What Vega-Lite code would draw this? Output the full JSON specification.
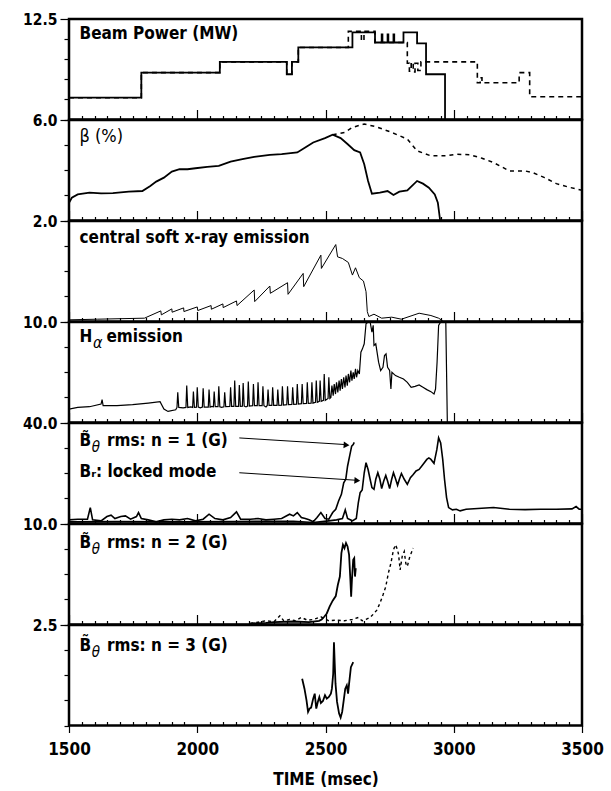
{
  "$schema": "https://vega.github.io/schema/vega-lite/v6.json",
  "background": "white",
  "padding": {"left": 21, "top": 10, "right": 12, "bottom": 8},
  "config": {
    "font": "DejaVu Sans Condensed",
    "view": {"stroke": "black", "strokeWidth": 2.5},
    "concat": {"spacing": 0},
    "axis": {"domain": false, "grid": false, "tickColor": "black", "tickWidth": 1.2, "labelFont": "DejaVu Sans Condensed", "labelFontSize": 15.5, "labelFontWeight": "bold", "labelColor": "black", "titleFont": "DejaVu Sans Condensed", "titleColor": "black"},
    "axisX": {"labelFontSize": 17},
    "text": {"font": "DejaVu Sans Condensed", "fontSize": 17, "fontWeight": "bold", "align": "left", "baseline": "middle", "color": "black"}
  },
  "datasets": {
    "one": [{"k": 0}],
    "bp1": [{"t":1500,"v":2.71},{"t":1782,"v":5.83},{"t":2088,"v":7.17},{"t":2349,"v":5.63},{"t":2369,"v":7.17},{"t":2394,"v":8.96},{"t":2605,"v":10.83},{"t":2693,"v":9.58},{"t":2719,"v":10.6},{"t":2722,"v":9.58},{"t":2742,"v":10.6},{"t":2745,"v":9.58},{"t":2765,"v":10.6},{"t":2768,"v":9.58},{"t":2804,"v":10.83},{"t":2857,"v":9.46},{"t":2892,"v":5.63},{"t":2966,"v":0},{"t":2968,"v":0}],
    "bp2": [{"t":1500,"v":2.71},{"t":1782,"v":5.83},{"t":2088,"v":7.17},{"t":2349,"v":5.63},{"t":2369,"v":7.17},{"t":2394,"v":8.96},{"t":2589,"v":10.96},{"t":2640,"v":9.8},{"t":2650,"v":10.96},{"t":2693,"v":9.58},{"t":2819,"v":7.0},{"t":2827,"v":6.0},{"t":2834,"v":7.1},{"t":2842,"v":5.9},{"t":2849,"v":7.0},{"t":2860,"v":6.1},{"t":2872,"v":7.17},{"t":3092,"v":4.58},{"t":3103,"v":5.2},{"t":3110,"v":4.58},{"t":3255,"v":5.83},{"t":3296,"v":2.83},{"t":3500,"v":2.83}],
    "beta1": [{"t":1500,"v":1.06},{"t":1511,"v":1.36},{"t":1534,"v":1.56},{"t":1580,"v":1.66},{"t":1625,"v":1.62},{"t":1671,"v":1.64},{"t":1733,"v":1.72},{"t":1786,"v":1.76},{"t":1817,"v":2.06},{"t":1840,"v":2.32},{"t":1870,"v":2.56},{"t":1901,"v":2.92},{"t":1931,"v":3.06},{"t":1962,"v":3.06},{"t":1993,"v":3.12},{"t":2039,"v":3.2},{"t":2084,"v":3.26},{"t":2130,"v":3.52},{"t":2176,"v":3.66},{"t":2222,"v":3.8},{"t":2283,"v":3.92},{"t":2329,"v":3.96},{"t":2390,"v":4.06},{"t":2421,"v":4.36},{"t":2452,"v":4.66},{"t":2498,"v":4.92},{"t":2528,"v":5.12},{"t":2559,"v":4.92},{"t":2589,"v":4.52},{"t":2612,"v":4.2},{"t":2635,"v":4.06},{"t":2651,"v":3.36},{"t":2666,"v":2.36},{"t":2681,"v":1.6},{"t":2712,"v":1.66},{"t":2742,"v":1.76},{"t":2765,"v":1.52},{"t":2788,"v":1.72},{"t":2819,"v":1.8},{"t":2857,"v":2.36},{"t":2880,"v":2.2},{"t":2903,"v":1.96},{"t":2926,"v":1.56},{"t":2938,"v":1.06},{"t":2947,"v":0}],
    "beta2": [{"t":2528,"v":5.12},{"t":2574,"v":5.26},{"t":2605,"v":5.56},{"t":2651,"v":5.76},{"t":2697,"v":5.6},{"t":2758,"v":5.26},{"t":2819,"v":4.86},{"t":2857,"v":4.16},{"t":2911,"v":3.86},{"t":2972,"v":3.86},{"t":3010,"v":3.96},{"t":3064,"v":3.92},{"t":3110,"v":3.72},{"t":3155,"v":3.46},{"t":3217,"v":2.96},{"t":3278,"v":2.96},{"t":3308,"v":2.86},{"t":3354,"v":2.56},{"t":3400,"v":2.2},{"t":3446,"v":2.0},{"t":3500,"v":1.8}],
    "sxr": [{"t":1500,"v":0.033},{"t":1610,"v":0.046},{"t":1794,"v":0.066},{"t":1858,"v":0.211},{"t":1860,"v":0.132},{"t":1901,"v":0.251},{"t":1902,"v":0.185},{"t":1947,"v":0.271},{"t":1948,"v":0.198},{"t":2000,"v":0.29},{"t":2002,"v":0.218},{"t":2054,"v":0.317},{"t":2055,"v":0.244},{"t":2100,"v":0.35},{"t":2101,"v":0.277},{"t":2153,"v":0.409},{"t":2155,"v":0.317},{"t":2222,"v":0.627},{"t":2224,"v":0.396},{"t":2283,"v":0.706},{"t":2285,"v":0.561},{"t":2352,"v":0.772},{"t":2354,"v":0.541},{"t":2413,"v":0.957},{"t":2415,"v":0.693},{"t":2482,"v":1.32},{"t":2484,"v":1.056},{"t":2540,"v":1.531},{"t":2547,"v":1.287},{"t":2566,"v":1.254},{"t":2589,"v":1.175},{"t":2605,"v":0.924},{"t":2617,"v":1.069},{"t":2632,"v":0.871},{"t":2648,"v":0.805},{"t":2658,"v":0.594},{"t":2663,"v":0.198},{"t":2669,"v":0.099},{"t":2689,"v":0.145},{"t":2719,"v":0.066},{"t":2758,"v":0.086},{"t":2796,"v":0.046},{"t":2865,"v":0.165},{"t":2911,"v":0.119},{"t":2941,"v":0.066},{"t":2957,"v":0.013}],
    "ha": [{"t":1500,"v":1.33},{"t":1534,"v":1.5},{"t":1580,"v":1.57},{"t":1625,"v":1.83},{"t":1629,"v":2.27},{"t":1633,"v":1.67},{"t":1687,"v":1.67},{"t":1748,"v":1.77},{"t":1809,"v":1.93},{"t":1855,"v":2.07},{"t":1870,"v":1.33},{"t":1886,"v":1.1},{"t":1916,"v":1.27},
      {"t":1921,"v":1.5},{"t":1924,"v":3.0},{"t":1928,"v":1.5},{"t":1945,"v":1.45},
      {"t":1956,"v":1.5},{"t":1959,"v":3.67},{"t":1963,"v":1.5},{"t":1975,"v":1.55},
      {"t":1982,"v":1.5},{"t":1985,"v":3.07},{"t":1989,"v":1.5},
      {"t":1997,"v":1.53},{"t":2000,"v":3.5},{"t":2004,"v":1.53},{"t":2012,"v":1.45},
      {"t":2020,"v":1.53},{"t":2023,"v":3.4},{"t":2027,"v":1.53},
      {"t":2043,"v":1.53},{"t":2046,"v":3.27},{"t":2050,"v":1.53},{"t":2057,"v":1.6},
      {"t":2063,"v":1.57},{"t":2066,"v":3.07},{"t":2070,"v":1.57},
      {"t":2081,"v":1.57},{"t":2084,"v":3.6},{"t":2088,"v":1.57},{"t":2095,"v":1.5},
      {"t":2104,"v":1.57},{"t":2107,"v":3.0},{"t":2111,"v":1.57},
      {"t":2127,"v":1.6},{"t":2130,"v":3.5},{"t":2134,"v":1.6},
      {"t":2143,"v":1.6},{"t":2146,"v":4.17},{"t":2150,"v":1.6},
      {"t":2161,"v":1.6},{"t":2164,"v":3.73},{"t":2168,"v":1.6},
      {"t":2176,"v":1.63},{"t":2179,"v":3.93},{"t":2183,"v":1.63},{"t":2190,"v":1.55},
      {"t":2196,"v":1.63},{"t":2199,"v":4.07},{"t":2203,"v":1.63},
      {"t":2216,"v":1.67},{"t":2219,"v":3.83},{"t":2223,"v":1.67},
      {"t":2234,"v":1.67},{"t":2237,"v":4.0},{"t":2241,"v":1.67},
      {"t":2253,"v":1.67},{"t":2256,"v":3.6},{"t":2260,"v":1.67},{"t":2268,"v":1.55},
      {"t":2273,"v":1.7},{"t":2276,"v":3.27},{"t":2280,"v":1.7},
      {"t":2291,"v":1.7},{"t":2294,"v":3.5},{"t":2298,"v":1.7},
      {"t":2311,"v":1.7},{"t":2314,"v":3.27},{"t":2318,"v":1.7},
      {"t":2329,"v":1.73},{"t":2332,"v":3.6},{"t":2336,"v":1.73},
      {"t":2349,"v":1.77},{"t":2352,"v":3.6},{"t":2356,"v":1.77},
      {"t":2369,"v":1.8},{"t":2372,"v":3.5},{"t":2376,"v":1.8},
      {"t":2387,"v":1.83},{"t":2390,"v":3.83},{"t":2394,"v":1.83},
      {"t":2406,"v":1.87},{"t":2409,"v":3.83},{"t":2413,"v":1.87},
      {"t":2426,"v":1.9},{"t":2429,"v":4.0},{"t":2433,"v":1.9},
      {"t":2444,"v":1.93},{"t":2447,"v":4.0},{"t":2451,"v":1.93},
      {"t":2461,"v":2.0},{"t":2464,"v":4.17},{"t":2468,"v":2.0},
      {"t":2476,"v":2.1},{"t":2479,"v":4.17},{"t":2483,"v":2.1},
      {"t":2492,"v":2.2},{"t":2495,"v":4.83},{"t":2499,"v":2.2},
      {"t":2510,"v":2.4},{"t":2513,"v":4.5},{"t":2517,"v":2.4},
      {"t":2521,"v":2.5},{"t":2525,"v":3.67},{"t":2530,"v":2.67},{"t":2534,"v":3.83},{"t":2539,"v":2.83},{"t":2543,"v":4.0},{"t":2548,"v":3.0},{"t":2553,"v":4.17},{"t":2557,"v":3.17},{"t":2562,"v":4.33},{"t":2566,"v":3.33},{"t":2571,"v":4.5},{"t":2576,"v":3.5},{"t":2580,"v":4.67},{"t":2585,"v":3.67},{"t":2589,"v":4.83},{"t":2594,"v":4.0},{"t":2599,"v":5.17},{"t":2603,"v":4.17},{"t":2608,"v":5.0},{"t":2612,"v":4.33},{"t":2617,"v":5.33},{"t":2621,"v":4.5},{"t":2626,"v":5.17},{"t":2632,"v":4.83},
      {"t":2638,"v":7.0},{"t":2644,"v":7.33},{"t":2651,"v":7.83},{"t":2658,"v":9.83},{"t":2666,"v":10},{"t":2674,"v":10},{"t":2681,"v":9.0},{"t":2686,"v":9.67},{"t":2689,"v":7.67},{"t":2696,"v":7.83},{"t":2701,"v":7.0},{"t":2707,"v":6.0},{"t":2715,"v":5.17},{"t":2724,"v":5.5},{"t":2730,"v":6.67},{"t":2736,"v":6.83},{"t":2742,"v":5.5},{"t":2750,"v":5.17},{"t":2755,"v":3.33},{"t":2759,"v":5.0},{"t":2773,"v":4.67},{"t":2788,"v":4.5},{"t":2804,"v":4.33},{"t":2819,"v":4.0},{"t":2834,"v":3.5},{"t":2849,"v":3.6},{"t":2865,"v":3.73},{"t":2880,"v":3.5},{"t":2895,"v":3.27},{"t":2911,"v":3.07},{"t":2923,"v":2.83},{"t":2929,"v":3.33},{"t":2935,"v":6.0},{"t":2941,"v":9.67},{"t":2949,"v":10},{"t":2969,"v":10},{"t":2975,"v":0}],
    "b1a": [{"t":1500,"v":1.45},{"t":1534,"v":1.72},{"t":1572,"v":1.72},{"t":1583,"v":6.34},{"t":1592,"v":1.45},{"t":1625,"v":1.06},{"t":1648,"v":2.77},{"t":1664,"v":3.3},{"t":1679,"v":1.98},{"t":1702,"v":2.77},{"t":1720,"v":3.04},{"t":1740,"v":1.72},{"t":1763,"v":2.77},{"t":1771,"v":4.36},{"t":1782,"v":1.98},{"t":1809,"v":1.45},{"t":1840,"v":0.66},{"t":1870,"v":1.45},{"t":1901,"v":1.72},{"t":1931,"v":1.45},{"t":1962,"v":1.98},{"t":1993,"v":1.06},{"t":2023,"v":1.72},{"t":2046,"v":3.7},{"t":2069,"v":1.98},{"t":2100,"v":1.45},{"t":2130,"v":2.38},{"t":2153,"v":4.62},{"t":2169,"v":1.72},{"t":2207,"v":1.72},{"t":2237,"v":1.98},{"t":2268,"v":1.45},{"t":2299,"v":1.72},{"t":2329,"v":1.98},{"t":2360,"v":3.7},{"t":2375,"v":3.04},{"t":2390,"v":4.36},{"t":2406,"v":2.38},{"t":2421,"v":1.98},{"t":2436,"v":1.45},{"t":2452,"v":0.66},{"t":2467,"v":2.38},{"t":2482,"v":4.36},{"t":2498,"v":1.98},{"t":2513,"v":1.72},{"t":2528,"v":4.36},{"t":2540,"v":5.68},{"t":2551,"v":8.98},{"t":2562,"v":11.6},{"t":2571,"v":16.2},{"t":2579,"v":17.6},{"t":2586,"v":22.8},{"t":2594,"v":26.8},{"t":2602,"v":30.8},{"t":2608,"v":31.4},{"t":2612,"v":32.3}],
    "b1b": [{"t":1500,"v":0.66},{"t":1687,"v":0.79},{"t":1916,"v":0.66},{"t":2146,"v":0.79},{"t":2375,"v":0.92},{"t":2452,"v":0.4},{"t":2513,"v":1.06},{"t":2543,"v":1.45},{"t":2566,"v":1.98},{"t":2577,"v":5.41},{"t":2586,"v":1.98},{"t":2605,"v":1.06},{"t":2620,"v":1.98},{"t":2628,"v":8.32},{"t":2635,"v":12.28},{"t":2643,"v":13.33},{"t":2651,"v":20.2},{"t":2658,"v":24.2},{"t":2666,"v":21.5},{"t":2674,"v":17.6},{"t":2681,"v":14.3},{"t":2689,"v":13.6},{"t":2696,"v":17.6},{"t":2704,"v":20.2},{"t":2712,"v":17.6},{"t":2719,"v":13.9},{"t":2727,"v":16.9},{"t":2735,"v":19.1},{"t":2742,"v":16.9},{"t":2750,"v":13.9},{"t":2758,"v":17.6},{"t":2765,"v":20.2},{"t":2773,"v":17.8},{"t":2781,"v":15.2},{"t":2788,"v":17.6},{"t":2796,"v":19.9},{"t":2807,"v":17.6},{"t":2819,"v":15.6},{"t":2831,"v":18.2},{"t":2842,"v":19.5},{"t":2853,"v":20.9},{"t":2865,"v":21.5},{"t":2880,"v":23.5},{"t":2895,"v":25.5},{"t":2903,"v":26.1},{"t":2911,"v":25.5},{"t":2923,"v":23.9},{"t":2934,"v":29.4},{"t":2941,"v":34.1},{"t":2949,"v":32.1},{"t":2957,"v":25.5},{"t":2964,"v":17.6},{"t":2972,"v":10.3},{"t":2980,"v":6.34},{"t":2995,"v":5.41},{"t":3010,"v":5.68},{"t":3025,"v":5.02},{"t":3048,"v":5.68},{"t":3094,"v":5.94},{"t":3155,"v":6.34},{"t":3217,"v":5.68},{"t":3278,"v":5.54},{"t":3339,"v":5.68},{"t":3400,"v":5.68},{"t":3461,"v":5.81},{"t":3477,"v":6.73},{"t":3489,"v":5.68},{"t":3500,"v":5.68}],
    "b2a": [{"t":2207,"v":0.1},{"t":2268,"v":0.17},{"t":2299,"v":0.23},{"t":2375,"v":0.3},{"t":2436,"v":0.23},{"t":2475,"v":0.37},{"t":2485,"v":0.5},{"t":2495,"v":0.77},{"t":2505,"v":1.1},{"t":2516,"v":1.77},{"t":2528,"v":2.37},{"t":2540,"v":2.83},{"t":2548,"v":3.93},{"t":2556,"v":4.77},{"t":2562,"v":7.1},{"t":2568,"v":7.93},{"t":2574,"v":7.6},{"t":2580,"v":8.1},{"t":2586,"v":7.77},{"t":2592,"v":6.93},{"t":2597,"v":4.43},{"t":2600,"v":2.77},{"t":2603,"v":4.43},{"t":2608,"v":6.43},{"t":2612,"v":6.6},{"t":2615,"v":4.77},{"t":2618,"v":5.6}],
    "b2b": [{"t":2207,"v":0.1},{"t":2237,"v":0.23},{"t":2268,"v":0.37},{"t":2299,"v":0.27},{"t":2322,"v":0.87},{"t":2337,"v":0.37},{"t":2360,"v":0.5},{"t":2383,"v":0.37},{"t":2406,"v":0.7},{"t":2429,"v":0.43},{"t":2452,"v":0.5},{"t":2482,"v":0.77},{"t":2513,"v":0.37},{"t":2543,"v":0.43},{"t":2574,"v":0.37},{"t":2605,"v":0.5},{"t":2628,"v":0.7},{"t":2643,"v":0.37},{"t":2658,"v":0.5},{"t":2674,"v":0.7},{"t":2689,"v":1.1},{"t":2700,"v":1.43},{"t":2712,"v":2.1},{"t":2724,"v":2.93},{"t":2735,"v":3.77},{"t":2745,"v":5.1},{"t":2755,"v":6.1},{"t":2765,"v":7.43},{"t":2773,"v":7.93},{"t":2781,"v":7.43},{"t":2785,"v":6.93},{"t":2791,"v":5.43},{"t":2799,"v":6.77},{"t":2807,"v":7.27},{"t":2813,"v":6.1},{"t":2819,"v":5.77},{"t":2827,"v":6.6},{"t":2834,"v":7.1},{"t":2842,"v":7.6}],
    "b3": [{"t":2409,"v":1.163},{"t":2418,"v":0.916},{"t":2426,"v":0.627},{"t":2432,"v":0.338},{"t":2438,"v":0.421},{"t":2444,"v":0.446},{"t":2452,"v":0.668},{"t":2458,"v":0.792},{"t":2464,"v":0.421},{"t":2470,"v":0.586},{"t":2476,"v":0.71},{"t":2482,"v":0.561},{"t":2490,"v":0.611},{"t":2498,"v":0.751},{"t":2505,"v":0.668},{"t":2513,"v":0.71},{"t":2521,"v":0.792},{"t":2525,"v":0.916},{"t":2530,"v":1.287},{"t":2533,"v":2.071},{"t":2536,"v":1.535},{"t":2539,"v":1.04},{"t":2545,"v":0.586},{"t":2553,"v":0.297},{"t":2559,"v":0.198},{"t":2565,"v":0.338},{"t":2571,"v":0.627},{"t":2577,"v":0.916},{"t":2583,"v":0.998},{"t":2588,"v":0.792},{"t":2592,"v":1.04},{"t":2599,"v":1.452},{"t":2605,"v":1.535},{"t":2608,"v":1.576}]
  },
  "vconcat": [
    {
      "width": 513, "height": 100.5,
      "layer": [
        {"data": {"name": "bp1"}, "mark": {"type": "line", "interpolate": "step-after", "color": "black", "strokeWidth": 1.8, "clip": true},
         "encoding": {
          "x": {"field": "t", "type": "quantitative", "scale": {"domain": [1500, 3500], "nice": false, "zero": false}, "axis": {"title": null, "labels": false, "values": [1500,1550,1600,1650,1700,1750,1800,1850,1900,1950,2000,2050,2100,2150,2200,2250,2300,2350,2400,2450,2500,2550,2600,2650,2700,2750,2800,2850,2900,2950,3000,3050,3100,3150,3200,3250,3300,3350,3400,3450,3500], "tickSize": {"condition": {"test": "datum.value % 500 === 0", "value": -10}, "value": -4}}},
          "y": {"field": "v", "type": "quantitative", "scale": {"domain": [0, 12.5], "nice": false, "zero": false}, "axis": {"title": null, "values": [0, 2.5, 5, 7.5, 10, 12.5], "labelExpr": "datum.value == 12.5 ? '12.5' : ''", "labelPadding": 3, "tickSize": {"condition": {"test": "datum.value == 12.5", "value": 9}, "value": 5}}}}},
        {"data": {"name": "bp2"}, "mark": {"type": "line", "interpolate": "step-after", "color": "black", "strokeWidth": 1.6, "strokeDash": [5, 4], "clip": true},
         "encoding": {
          "x": {"field": "t", "type": "quantitative", "scale": {"domain": [1500, 3500], "nice": false, "zero": false}, "axis": {"title": null, "labels": false, "values": [1500,1550,1600,1650,1700,1750,1800,1850,1900,1950,2000,2050,2100,2150,2200,2250,2300,2350,2400,2450,2500,2550,2600,2650,2700,2750,2800,2850,2900,2950,3000,3050,3100,3150,3200,3250,3300,3350,3400,3450,3500], "tickSize": {"condition": {"test": "datum.value % 500 === 0", "value": -10}, "value": -4}}},
          "y": {"field": "v", "type": "quantitative", "scale": {"domain": [0, 12.5], "nice": false, "zero": false}, "axis": {"title": null, "values": [0, 2.5, 5, 7.5, 10, 12.5], "labelExpr": "datum.value == 12.5 ? '12.5' : ''", "labelPadding": 3, "tickSize": {"condition": {"test": "datum.value == 12.5", "value": 9}, "value": 5}}}}},
        {"data": {"name": "one"}, "mark": {"type": "text"},
         "encoding": {
          "x": {"datum": 1541, "type": "quantitative", "scale": {"domain": [1500, 3500], "nice": false, "zero": false}, "axis": {"title": null, "labels": false, "values": [1500,1550,1600,1650,1700,1750,1800,1850,1900,1950,2000,2050,2100,2150,2200,2250,2300,2350,2400,2450,2500,2550,2600,2650,2700,2750,2800,2850,2900,2950,3000,3050,3100,3150,3200,3250,3300,3350,3400,3450,3500], "tickSize": {"condition": {"test": "datum.value % 500 === 0", "value": -10}, "value": -4}}},
          "y": {"datum": 10.6, "type": "quantitative", "scale": {"domain": [0, 12.5], "nice": false, "zero": false}, "axis": {"title": null, "values": [0, 2.5, 5, 7.5, 10, 12.5], "labelExpr": "datum.value == 12.5 ? '12.5' : ''", "labelPadding": 3, "tickSize": {"condition": {"test": "datum.value == 12.5", "value": 9}, "value": 5}}},
          "text": {"value": "Beam Power (MW)"}}}
      ]
    },
    {
      "width": 513, "height": 100.5,
      "layer": [
        {"data": {"name": "beta1"}, "mark": {"type": "line", "color": "black", "strokeWidth": 1.8, "clip": true},
         "encoding": {
          "x": {"field": "t", "type": "quantitative", "scale": {"domain": [1500, 3500], "nice": false, "zero": false}, "axis": {"title": null, "labels": false, "values": [1500,1550,1600,1650,1700,1750,1800,1850,1900,1950,2000,2050,2100,2150,2200,2250,2300,2350,2400,2450,2500,2550,2600,2650,2700,2750,2800,2850,2900,2950,3000,3050,3100,3150,3200,3250,3300,3350,3400,3450,3500], "tickSize": {"condition": {"test": "datum.value % 500 === 0", "value": -10}, "value": -4}}},
          "y": {"field": "v", "type": "quantitative", "scale": {"domain": [0, 6], "nice": false, "zero": false}, "axis": {"title": null, "values": [0, 1.5, 3, 4.5, 6], "labelExpr": "datum.value == 6 ? '6.0' : ''", "labelPadding": 3, "tickSize": {"condition": {"test": "datum.value == 6", "value": 9}, "value": 5}}}}},
        {"data": {"name": "beta2"}, "mark": {"type": "line", "color": "black", "strokeWidth": 1.5, "strokeDash": [4, 4], "clip": true},
         "encoding": {
          "x": {"field": "t", "type": "quantitative", "scale": {"domain": [1500, 3500], "nice": false, "zero": false}, "axis": {"title": null, "labels": false, "values": [1500,1550,1600,1650,1700,1750,1800,1850,1900,1950,2000,2050,2100,2150,2200,2250,2300,2350,2400,2450,2500,2550,2600,2650,2700,2750,2800,2850,2900,2950,3000,3050,3100,3150,3200,3250,3300,3350,3400,3450,3500], "tickSize": {"condition": {"test": "datum.value % 500 === 0", "value": -10}, "value": -4}}},
          "y": {"field": "v", "type": "quantitative", "scale": {"domain": [0, 6], "nice": false, "zero": false}, "axis": {"title": null, "values": [0, 1.5, 3, 4.5, 6], "labelExpr": "datum.value == 6 ? '6.0' : ''", "labelPadding": 3, "tickSize": {"condition": {"test": "datum.value == 6", "value": 9}, "value": 5}}}}},
        {"data": {"name": "one"}, "mark": {"type": "text", "fontWeight": "normal", "fontSize": 18},
         "encoding": {
          "x": {"datum": 1541, "type": "quantitative", "scale": {"domain": [1500, 3500], "nice": false, "zero": false}, "axis": {"title": null, "labels": false, "values": [1500,1550,1600,1650,1700,1750,1800,1850,1900,1950,2000,2050,2100,2150,2200,2250,2300,2350,2400,2450,2500,2550,2600,2650,2700,2750,2800,2850,2900,2950,3000,3050,3100,3150,3200,3250,3300,3350,3400,3450,3500], "tickSize": {"condition": {"test": "datum.value % 500 === 0", "value": -10}, "value": -4}}},
          "y": {"datum": 4.96, "type": "quantitative", "scale": {"domain": [0, 6], "nice": false, "zero": false}, "axis": {"title": null, "values": [0, 1.5, 3, 4.5, 6], "labelExpr": "datum.value == 6 ? '6.0' : ''", "labelPadding": 3, "tickSize": {"condition": {"test": "datum.value == 6", "value": 9}, "value": 5}}},
          "text": {"value": "β (%)"}}}
      ]
    },
    {
      "width": 513, "height": 100.5,
      "layer": [
        {"data": {"name": "sxr"}, "mark": {"type": "line", "color": "black", "strokeWidth": 1, "clip": true},
         "encoding": {
          "x": {"field": "t", "type": "quantitative", "scale": {"domain": [1500, 3500], "nice": false, "zero": false}, "axis": {"title": null, "labels": false, "values": [1500,1550,1600,1650,1700,1750,1800,1850,1900,1950,2000,2050,2100,2150,2200,2250,2300,2350,2400,2450,2500,2550,2600,2650,2700,2750,2800,2850,2900,2950,3000,3050,3100,3150,3200,3250,3300,3350,3400,3450,3500], "tickSize": {"condition": {"test": "datum.value % 500 === 0", "value": -10}, "value": -4}}},
          "y": {"field": "v", "type": "quantitative", "scale": {"domain": [0, 2], "nice": false, "zero": false}, "axis": {"title": null, "values": [0, 0.5, 1, 1.5, 2], "labelExpr": "datum.value == 2 ? '2.0' : ''", "labelPadding": 3, "tickSize": {"condition": {"test": "datum.value == 2", "value": 9}, "value": 5}}}}},
        {"data": {"name": "one"}, "mark": {"type": "text"},
         "encoding": {
          "x": {"datum": 1541, "type": "quantitative", "scale": {"domain": [1500, 3500], "nice": false, "zero": false}, "axis": {"title": null, "labels": false, "values": [1500,1550,1600,1650,1700,1750,1800,1850,1900,1950,2000,2050,2100,2150,2200,2250,2300,2350,2400,2450,2500,2550,2600,2650,2700,2750,2800,2850,2900,2950,3000,3050,3100,3150,3200,3250,3300,3350,3400,3450,3500], "tickSize": {"condition": {"test": "datum.value % 500 === 0", "value": -10}, "value": -4}}},
          "y": {"datum": 1.66, "type": "quantitative", "scale": {"domain": [0, 2], "nice": false, "zero": false}, "axis": {"title": null, "values": [0, 0.5, 1, 1.5, 2], "labelExpr": "datum.value == 2 ? '2.0' : ''", "labelPadding": 3, "tickSize": {"condition": {"test": "datum.value == 2", "value": 9}, "value": 5}}},
          "text": {"value": "central soft x-ray emission"}}}
      ]
    },
    {
      "width": 513, "height": 100.5,
      "layer": [
        {"data": {"name": "ha"}, "mark": {"type": "line", "color": "black", "strokeWidth": 1.2, "clip": true},
         "encoding": {
          "x": {"field": "t", "type": "quantitative", "scale": {"domain": [1500, 3500], "nice": false, "zero": false}, "axis": {"title": null, "labels": false, "values": [1500,1550,1600,1650,1700,1750,1800,1850,1900,1950,2000,2050,2100,2150,2200,2250,2300,2350,2400,2450,2500,2550,2600,2650,2700,2750,2800,2850,2900,2950,3000,3050,3100,3150,3200,3250,3300,3350,3400,3450,3500], "tickSize": {"condition": {"test": "datum.value % 500 === 0", "value": -10}, "value": -4}}},
          "y": {"field": "v", "type": "quantitative", "scale": {"domain": [0, 10], "nice": false, "zero": false}, "axis": {"title": null, "values": [0, 2.5, 5, 7.5, 10], "labelExpr": "datum.value == 10 ? '10.0' : ''", "labelPadding": 3, "tickSize": {"condition": {"test": "datum.value == 10", "value": 9}, "value": 5}}}}},
        {"data": {"name": "one"}, "mark": {"type": "text"},
         "encoding": {
          "x": {"datum": 1541, "type": "quantitative", "scale": {"domain": [1500, 3500], "nice": false, "zero": false}, "axis": {"title": null, "labels": false, "values": [1500,1550,1600,1650,1700,1750,1800,1850,1900,1950,2000,2050,2100,2150,2200,2250,2300,2350,2400,2450,2500,2550,2600,2650,2700,2750,2800,2850,2900,2950,3000,3050,3100,3150,3200,3250,3300,3350,3400,3450,3500], "tickSize": {"condition": {"test": "datum.value % 500 === 0", "value": -10}, "value": -4}}},
          "y": {"datum": 8.5, "type": "quantitative", "scale": {"domain": [0, 10], "nice": false, "zero": false}, "axis": {"title": null, "values": [0, 2.5, 5, 7.5, 10], "labelExpr": "datum.value == 10 ? '10.0' : ''", "labelPadding": 3, "tickSize": {"condition": {"test": "datum.value == 10", "value": 9}, "value": 5}}},
          "text": {"value": "H"}}},
        {"data": {"name": "one"}, "mark": {"type": "text", "fontWeight": "normal", "fontStyle": "italic", "fontSize": 16, "dy": 6},
         "encoding": {
          "x": {"datum": 1594, "type": "quantitative", "scale": {"domain": [1500, 3500], "nice": false, "zero": false}, "axis": {"title": null, "labels": false, "values": [1500,1550,1600,1650,1700,1750,1800,1850,1900,1950,2000,2050,2100,2150,2200,2250,2300,2350,2400,2450,2500,2550,2600,2650,2700,2750,2800,2850,2900,2950,3000,3050,3100,3150,3200,3250,3300,3350,3400,3450,3500], "tickSize": {"condition": {"test": "datum.value % 500 === 0", "value": -10}, "value": -4}}},
          "y": {"datum": 8.5, "type": "quantitative", "scale": {"domain": [0, 10], "nice": false, "zero": false}, "axis": {"title": null, "values": [0, 2.5, 5, 7.5, 10], "labelExpr": "datum.value == 10 ? '10.0' : ''", "labelPadding": 3, "tickSize": {"condition": {"test": "datum.value == 10", "value": 9}, "value": 5}}},
          "text": {"value": "α"}}},
        {"data": {"name": "one"}, "mark": {"type": "text"},
         "encoding": {
          "x": {"datum": 1646, "type": "quantitative", "scale": {"domain": [1500, 3500], "nice": false, "zero": false}, "axis": {"title": null, "labels": false, "values": [1500,1550,1600,1650,1700,1750,1800,1850,1900,1950,2000,2050,2100,2150,2200,2250,2300,2350,2400,2450,2500,2550,2600,2650,2700,2750,2800,2850,2900,2950,3000,3050,3100,3150,3200,3250,3300,3350,3400,3450,3500], "tickSize": {"condition": {"test": "datum.value % 500 === 0", "value": -10}, "value": -4}}},
          "y": {"datum": 8.5, "type": "quantitative", "scale": {"domain": [0, 10], "nice": false, "zero": false}, "axis": {"title": null, "values": [0, 2.5, 5, 7.5, 10], "labelExpr": "datum.value == 10 ? '10.0' : ''", "labelPadding": 3, "tickSize": {"condition": {"test": "datum.value == 10", "value": 9}, "value": 5}}},
          "text": {"value": "emission"}}}
      ]
    },
    {
      "width": 513, "height": 100.5,
      "layer": [
        {"data": {"name": "b1a"}, "mark": {"type": "line", "color": "black", "strokeWidth": 1.6, "clip": true},
         "encoding": {
          "x": {"field": "t", "type": "quantitative", "scale": {"domain": [1500, 3500], "nice": false, "zero": false}, "axis": {"title": null, "labels": false, "values": [1500,1550,1600,1650,1700,1750,1800,1850,1900,1950,2000,2050,2100,2150,2200,2250,2300,2350,2400,2450,2500,2550,2600,2650,2700,2750,2800,2850,2900,2950,3000,3050,3100,3150,3200,3250,3300,3350,3400,3450,3500], "tickSize": {"condition": {"test": "datum.value % 500 === 0", "value": -10}, "value": -4}}},
          "y": {"field": "v", "type": "quantitative", "scale": {"domain": [0, 40], "nice": false, "zero": false}, "axis": {"title": null, "values": [0, 10, 20, 30, 40], "labelExpr": "datum.value == 40 ? '40.0' : ''", "labelPadding": 3, "tickSize": {"condition": {"test": "datum.value == 40", "value": 9}, "value": 5}}}}},
        {"data": {"name": "b1b"}, "mark": {"type": "line", "color": "black", "strokeWidth": 1.6, "clip": true},
         "encoding": {
          "x": {"field": "t", "type": "quantitative", "scale": {"domain": [1500, 3500], "nice": false, "zero": false}, "axis": {"title": null, "labels": false, "values": [1500,1550,1600,1650,1700,1750,1800,1850,1900,1950,2000,2050,2100,2150,2200,2250,2300,2350,2400,2450,2500,2550,2600,2650,2700,2750,2800,2850,2900,2950,3000,3050,3100,3150,3200,3250,3300,3350,3400,3450,3500], "tickSize": {"condition": {"test": "datum.value % 500 === 0", "value": -10}, "value": -4}}},
          "y": {"field": "v", "type": "quantitative", "scale": {"domain": [0, 40], "nice": false, "zero": false}, "axis": {"title": null, "values": [0, 10, 20, 30, 40], "labelExpr": "datum.value == 40 ? '40.0' : ''", "labelPadding": 3, "tickSize": {"condition": {"test": "datum.value == 40", "value": 9}, "value": 5}}}}},
        {"data": {"name": "one"}, "mark": {"type": "rule", "color": "black", "strokeWidth": 1},
         "encoding": {
          "x": {"datum": 2164, "type": "quantitative", "scale": {"domain": [1500, 3500], "nice": false, "zero": false}, "axis": {"title": null, "labels": false, "values": [1500,1550,1600,1650,1700,1750,1800,1850,1900,1950,2000,2050,2100,2150,2200,2250,2300,2350,2400,2450,2500,2550,2600,2650,2700,2750,2800,2850,2900,2950,3000,3050,3100,3150,3200,3250,3300,3350,3400,3450,3500], "tickSize": {"condition": {"test": "datum.value % 500 === 0", "value": -10}, "value": -4}}},
          "y": {"datum": 34.06, "type": "quantitative", "scale": {"domain": [0, 40], "nice": false, "zero": false}, "axis": {"title": null, "values": [0, 10, 20, 30, 40], "labelExpr": "datum.value == 40 ? '40.0' : ''", "labelPadding": 3, "tickSize": {"condition": {"test": "datum.value == 40", "value": 9}, "value": 5}}},
          "x2": {"datum": 2580}, "y2": {"datum": 31.4}}},
        {"data": {"name": "one"}, "mark": {"type": "rule", "color": "black", "strokeWidth": 1},
         "encoding": {
          "x": {"datum": 2164, "type": "quantitative", "scale": {"domain": [1500, 3500], "nice": false, "zero": false}, "axis": {"title": null, "labels": false, "values": [1500,1550,1600,1650,1700,1750,1800,1850,1900,1950,2000,2050,2100,2150,2200,2250,2300,2350,2400,2450,2500,2550,2600,2650,2700,2750,2800,2850,2900,2950,3000,3050,3100,3150,3200,3250,3300,3350,3400,3450,3500], "tickSize": {"condition": {"test": "datum.value % 500 === 0", "value": -10}, "value": -4}}},
          "y": {"datum": 20.2, "type": "quantitative", "scale": {"domain": [0, 40], "nice": false, "zero": false}, "axis": {"title": null, "values": [0, 10, 20, 30, 40], "labelExpr": "datum.value == 40 ? '40.0' : ''", "labelPadding": 3, "tickSize": {"condition": {"test": "datum.value == 40", "value": 9}, "value": 5}}},
          "x2": {"datum": 2622}, "y2": {"datum": 17.2}}},
        {"data": {"name": "one"}, "mark": {"type": "point", "shape": "triangle-right", "filled": true, "color": "black", "size": 45, "angle": 4, "opacity": 1},
         "encoding": {
          "x": {"datum": 2582, "type": "quantitative", "scale": {"domain": [1500, 3500], "nice": false, "zero": false}, "axis": {"title": null, "labels": false, "values": [1500,1550,1600,1650,1700,1750,1800,1850,1900,1950,2000,2050,2100,2150,2200,2250,2300,2350,2400,2450,2500,2550,2600,2650,2700,2750,2800,2850,2900,2950,3000,3050,3100,3150,3200,3250,3300,3350,3400,3450,3500], "tickSize": {"condition": {"test": "datum.value % 500 === 0", "value": -10}, "value": -4}}},
          "y": {"datum": 31.25, "type": "quantitative", "scale": {"domain": [0, 40], "nice": false, "zero": false}, "axis": {"title": null, "values": [0, 10, 20, 30, 40], "labelExpr": "datum.value == 40 ? '40.0' : ''", "labelPadding": 3, "tickSize": {"condition": {"test": "datum.value == 40", "value": 9}, "value": 5}}}}},
        {"data": {"name": "one"}, "mark": {"type": "point", "shape": "triangle-right", "filled": true, "color": "black", "size": 45, "angle": 4, "opacity": 1},
         "encoding": {
          "x": {"datum": 2624, "type": "quantitative", "scale": {"domain": [1500, 3500], "nice": false, "zero": false}, "axis": {"title": null, "labels": false, "values": [1500,1550,1600,1650,1700,1750,1800,1850,1900,1950,2000,2050,2100,2150,2200,2250,2300,2350,2400,2450,2500,2550,2600,2650,2700,2750,2800,2850,2900,2950,3000,3050,3100,3150,3200,3250,3300,3350,3400,3450,3500], "tickSize": {"condition": {"test": "datum.value % 500 === 0", "value": -10}, "value": -4}}},
          "y": {"datum": 17.05, "type": "quantitative", "scale": {"domain": [0, 40], "nice": false, "zero": false}, "axis": {"title": null, "values": [0, 10, 20, 30, 40], "labelExpr": "datum.value == 40 ? '40.0' : ''", "labelPadding": 3, "tickSize": {"condition": {"test": "datum.value == 40", "value": 9}, "value": 5}}}}},
        {"data": {"name": "one"}, "mark": {"type": "text"},
         "encoding": {
          "x": {"datum": 1541, "type": "quantitative", "scale": {"domain": [1500, 3500], "nice": false, "zero": false}, "axis": {"title": null, "labels": false, "values": [1500,1550,1600,1650,1700,1750,1800,1850,1900,1950,2000,2050,2100,2150,2200,2250,2300,2350,2400,2450,2500,2550,2600,2650,2700,2750,2800,2850,2900,2950,3000,3050,3100,3150,3200,3250,3300,3350,3400,3450,3500], "tickSize": {"condition": {"test": "datum.value % 500 === 0", "value": -10}, "value": -4}}},
          "y": {"datum": 32.7, "type": "quantitative", "scale": {"domain": [0, 40], "nice": false, "zero": false}, "axis": {"title": null, "values": [0, 10, 20, 30, 40], "labelExpr": "datum.value == 40 ? '40.0' : ''", "labelPadding": 3, "tickSize": {"condition": {"test": "datum.value == 40", "value": 9}, "value": 5}}},
          "text": {"value": "B̃"}}},
        {"data": {"name": "one"}, "mark": {"type": "text", "fontWeight": "normal", "fontStyle": "italic", "fontSize": 15, "dy": 6},
         "encoding": {
          "x": {"datum": 1589, "type": "quantitative", "scale": {"domain": [1500, 3500], "nice": false, "zero": false}, "axis": {"title": null, "labels": false, "values": [1500,1550,1600,1650,1700,1750,1800,1850,1900,1950,2000,2050,2100,2150,2200,2250,2300,2350,2400,2450,2500,2550,2600,2650,2700,2750,2800,2850,2900,2950,3000,3050,3100,3150,3200,3250,3300,3350,3400,3450,3500], "tickSize": {"condition": {"test": "datum.value % 500 === 0", "value": -10}, "value": -4}}},
          "y": {"datum": 32.7, "type": "quantitative", "scale": {"domain": [0, 40], "nice": false, "zero": false}, "axis": {"title": null, "values": [0, 10, 20, 30, 40], "labelExpr": "datum.value == 40 ? '40.0' : ''", "labelPadding": 3, "tickSize": {"condition": {"test": "datum.value == 40", "value": 9}, "value": 5}}},
          "text": {"value": "θ"}}},
        {"data": {"name": "one"}, "mark": {"type": "text"},
         "encoding": {
          "x": {"datum": 1648, "type": "quantitative", "scale": {"domain": [1500, 3500], "nice": false, "zero": false}, "axis": {"title": null, "labels": false, "values": [1500,1550,1600,1650,1700,1750,1800,1850,1900,1950,2000,2050,2100,2150,2200,2250,2300,2350,2400,2450,2500,2550,2600,2650,2700,2750,2800,2850,2900,2950,3000,3050,3100,3150,3200,3250,3300,3350,3400,3450,3500], "tickSize": {"condition": {"test": "datum.value % 500 === 0", "value": -10}, "value": -4}}},
          "y": {"datum": 32.7, "type": "quantitative", "scale": {"domain": [0, 40], "nice": false, "zero": false}, "axis": {"title": null, "values": [0, 10, 20, 30, 40], "labelExpr": "datum.value == 40 ? '40.0' : ''", "labelPadding": 3, "tickSize": {"condition": {"test": "datum.value == 40", "value": 9}, "value": 5}}},
          "text": {"value": "rms: n = 1 (G)"}}},
        {"data": {"name": "one"}, "mark": {"type": "text"},
         "encoding": {
          "x": {"datum": 1541, "type": "quantitative", "scale": {"domain": [1500, 3500], "nice": false, "zero": false}, "axis": {"title": null, "labels": false, "values": [1500,1550,1600,1650,1700,1750,1800,1850,1900,1950,2000,2050,2100,2150,2200,2250,2300,2350,2400,2450,2500,2550,2600,2650,2700,2750,2800,2850,2900,2950,3000,3050,3100,3150,3200,3250,3300,3350,3400,3450,3500], "tickSize": {"condition": {"test": "datum.value % 500 === 0", "value": -10}, "value": -4}}},
          "y": {"datum": 20.5, "type": "quantitative", "scale": {"domain": [0, 40], "nice": false, "zero": false}, "axis": {"title": null, "values": [0, 10, 20, 30, 40], "labelExpr": "datum.value == 40 ? '40.0' : ''", "labelPadding": 3, "tickSize": {"condition": {"test": "datum.value == 40", "value": 9}, "value": 5}}},
          "text": {"value": "Bᵣ: locked mode"}}}
      ]
    },
    {
      "width": 513, "height": 100.5,
      "layer": [
        {"data": {"name": "b2b"}, "mark": {"type": "line", "color": "black", "strokeWidth": 1.4, "strokeDash": [3, 3], "clip": true},
         "encoding": {
          "x": {"field": "t", "type": "quantitative", "scale": {"domain": [1500, 3500], "nice": false, "zero": false}, "axis": {"title": null, "labels": false, "values": [1500,1550,1600,1650,1700,1750,1800,1850,1900,1950,2000,2050,2100,2150,2200,2250,2300,2350,2400,2450,2500,2550,2600,2650,2700,2750,2800,2850,2900,2950,3000,3050,3100,3150,3200,3250,3300,3350,3400,3450,3500], "tickSize": {"condition": {"test": "datum.value % 500 === 0", "value": -10}, "value": -4}}},
          "y": {"field": "v", "type": "quantitative", "scale": {"domain": [0, 10], "nice": false, "zero": false}, "axis": {"title": null, "values": [0, 2.5, 5, 7.5, 10], "labelExpr": "datum.value == 10 ? '10.0' : ''", "labelPadding": 3, "tickSize": {"condition": {"test": "datum.value == 10", "value": 9}, "value": 5}}}}},
        {"data": {"name": "b2a"}, "mark": {"type": "line", "color": "black", "strokeWidth": 1.8, "clip": true},
         "encoding": {
          "x": {"field": "t", "type": "quantitative", "scale": {"domain": [1500, 3500], "nice": false, "zero": false}, "axis": {"title": null, "labels": false, "values": [1500,1550,1600,1650,1700,1750,1800,1850,1900,1950,2000,2050,2100,2150,2200,2250,2300,2350,2400,2450,2500,2550,2600,2650,2700,2750,2800,2850,2900,2950,3000,3050,3100,3150,3200,3250,3300,3350,3400,3450,3500], "tickSize": {"condition": {"test": "datum.value % 500 === 0", "value": -10}, "value": -4}}},
          "y": {"field": "v", "type": "quantitative", "scale": {"domain": [0, 10], "nice": false, "zero": false}, "axis": {"title": null, "values": [0, 2.5, 5, 7.5, 10], "labelExpr": "datum.value == 10 ? '10.0' : ''", "labelPadding": 3, "tickSize": {"condition": {"test": "datum.value == 10", "value": 9}, "value": 5}}}}},
        {"data": {"name": "one"}, "mark": {"type": "text"},
         "encoding": {
          "x": {"datum": 1541, "type": "quantitative", "scale": {"domain": [1500, 3500], "nice": false, "zero": false}, "axis": {"title": null, "labels": false, "values": [1500,1550,1600,1650,1700,1750,1800,1850,1900,1950,2000,2050,2100,2150,2200,2250,2300,2350,2400,2450,2500,2550,2600,2650,2700,2750,2800,2850,2900,2950,3000,3050,3100,3150,3200,3250,3300,3350,3400,3450,3500], "tickSize": {"condition": {"test": "datum.value % 500 === 0", "value": -10}, "value": -4}}},
          "y": {"datum": 8.1, "type": "quantitative", "scale": {"domain": [0, 10], "nice": false, "zero": false}, "axis": {"title": null, "values": [0, 2.5, 5, 7.5, 10], "labelExpr": "datum.value == 10 ? '10.0' : ''", "labelPadding": 3, "tickSize": {"condition": {"test": "datum.value == 10", "value": 9}, "value": 5}}},
          "text": {"value": "B̃"}}},
        {"data": {"name": "one"}, "mark": {"type": "text", "fontWeight": "normal", "fontStyle": "italic", "fontSize": 15, "dy": 6},
         "encoding": {
          "x": {"datum": 1589, "type": "quantitative", "scale": {"domain": [1500, 3500], "nice": false, "zero": false}, "axis": {"title": null, "labels": false, "values": [1500,1550,1600,1650,1700,1750,1800,1850,1900,1950,2000,2050,2100,2150,2200,2250,2300,2350,2400,2450,2500,2550,2600,2650,2700,2750,2800,2850,2900,2950,3000,3050,3100,3150,3200,3250,3300,3350,3400,3450,3500], "tickSize": {"condition": {"test": "datum.value % 500 === 0", "value": -10}, "value": -4}}},
          "y": {"datum": 8.1, "type": "quantitative", "scale": {"domain": [0, 10], "nice": false, "zero": false}, "axis": {"title": null, "values": [0, 2.5, 5, 7.5, 10], "labelExpr": "datum.value == 10 ? '10.0' : ''", "labelPadding": 3, "tickSize": {"condition": {"test": "datum.value == 10", "value": 9}, "value": 5}}},
          "text": {"value": "θ"}}},
        {"data": {"name": "one"}, "mark": {"type": "text"},
         "encoding": {
          "x": {"datum": 1648, "type": "quantitative", "scale": {"domain": [1500, 3500], "nice": false, "zero": false}, "axis": {"title": null, "labels": false, "values": [1500,1550,1600,1650,1700,1750,1800,1850,1900,1950,2000,2050,2100,2150,2200,2250,2300,2350,2400,2450,2500,2550,2600,2650,2700,2750,2800,2850,2900,2950,3000,3050,3100,3150,3200,3250,3300,3350,3400,3450,3500], "tickSize": {"condition": {"test": "datum.value % 500 === 0", "value": -10}, "value": -4}}},
          "y": {"datum": 8.1, "type": "quantitative", "scale": {"domain": [0, 10], "nice": false, "zero": false}, "axis": {"title": null, "values": [0, 2.5, 5, 7.5, 10], "labelExpr": "datum.value == 10 ? '10.0' : ''", "labelPadding": 3, "tickSize": {"condition": {"test": "datum.value == 10", "value": 9}, "value": 5}}},
          "text": {"value": "rms: n = 2 (G)"}}}
      ]
    },
    {
      "width": 513, "height": 100.5,
      "layer": [
        {"data": {"name": "b3"}, "mark": {"type": "line", "color": "black", "strokeWidth": 1.8, "clip": true},
         "encoding": {
          "x": {"field": "t", "type": "quantitative", "scale": {"domain": [1500, 3500], "nice": false, "zero": false}, "axis": {"title": "TIME (msec)", "titleFontSize": 17, "titleFontWeight": "bold", "titlePadding": 14, "labels": true, "format": "d", "labelFlush": false, "labelOverlap": false, "labelPadding": 9, "labelExpr": "datum.value % 500 === 0 ? datum.label : ''", "values": [1500,1550,1600,1650,1700,1750,1800,1850,1900,1950,2000,2050,2100,2150,2200,2250,2300,2350,2400,2450,2500,2550,2600,2650,2700,2750,2800,2850,2900,2950,3000,3050,3100,3150,3200,3250,3300,3350,3400,3450,3500], "tickSize": {"condition": {"test": "datum.value % 500 === 0", "value": 7}, "value": -4}}},
          "y": {"field": "v", "type": "quantitative", "scale": {"domain": [0, 2.5], "nice": false, "zero": false}, "axis": {"title": null, "values": [0, 0.625, 1.25, 1.875, 2.5], "labelExpr": "datum.value == 2.5 ? '2.5' : ''", "labelPadding": 3, "tickSize": {"condition": {"test": "datum.value == 2.5", "value": 9}, "value": 5}}}}},
        {"data": {"name": "one"}, "mark": {"type": "text"},
         "encoding": {
          "x": {"datum": 1541, "type": "quantitative", "scale": {"domain": [1500, 3500], "nice": false, "zero": false}, "axis": {"title": "TIME (msec)", "titleFontSize": 17, "titleFontWeight": "bold", "titlePadding": 14, "labels": true, "format": "d", "labelFlush": false, "labelOverlap": false, "labelPadding": 9, "labelExpr": "datum.value % 500 === 0 ? datum.label : ''", "values": [1500,1550,1600,1650,1700,1750,1800,1850,1900,1950,2000,2050,2100,2150,2200,2250,2300,2350,2400,2450,2500,2550,2600,2650,2700,2750,2800,2850,2900,2950,3000,3050,3100,3150,3200,3250,3300,3350,3400,3450,3500], "tickSize": {"condition": {"test": "datum.value % 500 === 0", "value": 7}, "value": -4}}},
          "y": {"datum": 1.99, "type": "quantitative", "scale": {"domain": [0, 2.5], "nice": false, "zero": false}, "axis": {"title": null, "values": [0, 0.625, 1.25, 1.875, 2.5], "labelExpr": "datum.value == 2.5 ? '2.5' : ''", "labelPadding": 3, "tickSize": {"condition": {"test": "datum.value == 2.5", "value": 9}, "value": 5}}},
          "text": {"value": "B̃"}}},
        {"data": {"name": "one"}, "mark": {"type": "text", "fontWeight": "normal", "fontStyle": "italic", "fontSize": 15, "dy": 6},
         "encoding": {
          "x": {"datum": 1589, "type": "quantitative", "scale": {"domain": [1500, 3500], "nice": false, "zero": false}, "axis": {"title": "TIME (msec)", "titleFontSize": 17, "titleFontWeight": "bold", "titlePadding": 14, "labels": true, "format": "d", "labelFlush": false, "labelOverlap": false, "labelPadding": 9, "labelExpr": "datum.value % 500 === 0 ? datum.label : ''", "values": [1500,1550,1600,1650,1700,1750,1800,1850,1900,1950,2000,2050,2100,2150,2200,2250,2300,2350,2400,2450,2500,2550,2600,2650,2700,2750,2800,2850,2900,2950,3000,3050,3100,3150,3200,3250,3300,3350,3400,3450,3500], "tickSize": {"condition": {"test": "datum.value % 500 === 0", "value": 7}, "value": -4}}},
          "y": {"datum": 1.99, "type": "quantitative", "scale": {"domain": [0, 2.5], "nice": false, "zero": false}, "axis": {"title": null, "values": [0, 0.625, 1.25, 1.875, 2.5], "labelExpr": "datum.value == 2.5 ? '2.5' : ''", "labelPadding": 3, "tickSize": {"condition": {"test": "datum.value == 2.5", "value": 9}, "value": 5}}},
          "text": {"value": "θ"}}},
        {"data": {"name": "one"}, "mark": {"type": "text"},
         "encoding": {
          "x": {"datum": 1648, "type": "quantitative", "scale": {"domain": [1500, 3500], "nice": false, "zero": false}, "axis": {"title": "TIME (msec)", "titleFontSize": 17, "titleFontWeight": "bold", "titlePadding": 14, "labels": true, "format": "d", "labelFlush": false, "labelOverlap": false, "labelPadding": 9, "labelExpr": "datum.value % 500 === 0 ? datum.label : ''", "values": [1500,1550,1600,1650,1700,1750,1800,1850,1900,1950,2000,2050,2100,2150,2200,2250,2300,2350,2400,2450,2500,2550,2600,2650,2700,2750,2800,2850,2900,2950,3000,3050,3100,3150,3200,3250,3300,3350,3400,3450,3500], "tickSize": {"condition": {"test": "datum.value % 500 === 0", "value": 7}, "value": -4}}},
          "y": {"datum": 1.99, "type": "quantitative", "scale": {"domain": [0, 2.5], "nice": false, "zero": false}, "axis": {"title": null, "values": [0, 0.625, 1.25, 1.875, 2.5], "labelExpr": "datum.value == 2.5 ? '2.5' : ''", "labelPadding": 3, "tickSize": {"condition": {"test": "datum.value == 2.5", "value": 9}, "value": 5}}},
          "text": {"value": "rms: n = 3 (G)"}}}
      ]
    }
  ],
  "bounds": "flush"
}
